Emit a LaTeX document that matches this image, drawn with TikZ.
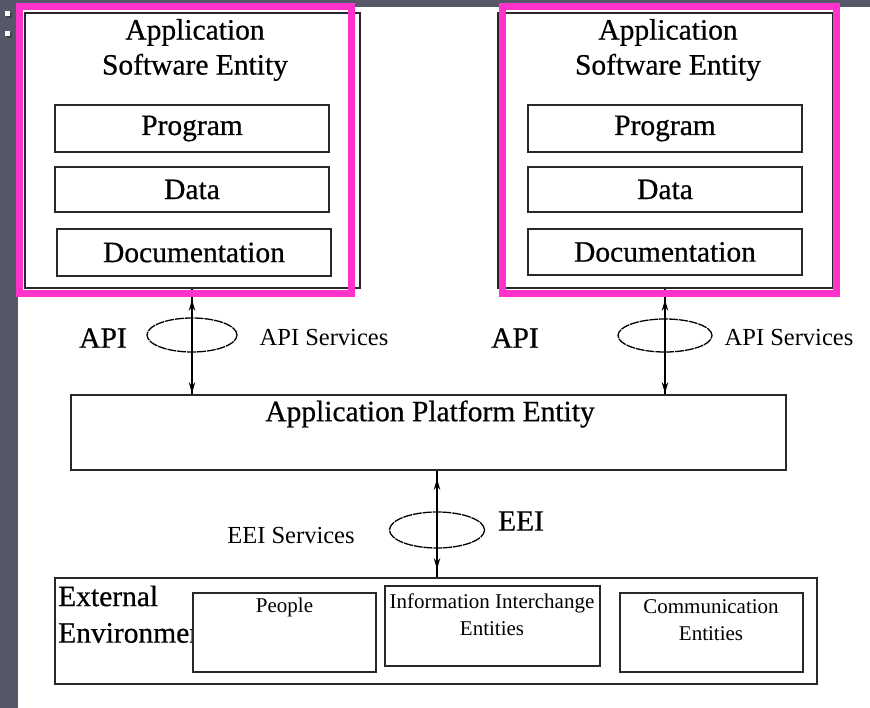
\documentclass[tikz,border=0pt]{standalone}
\usepackage{fontspec}
\setmainfont{Liberation Serif}
\newfontfamily\heavyserif{Liberation Serif}[FakeBold=0.6]
\usetikzlibrary{arrows.meta,shapes.geometric}
\definecolor{bggray}{RGB}{86,88,104}
\definecolor{hotpink}{RGB}{255,51,204}
\definecolor{linegray}{RGB}{40,40,40}
\newcommand{\bigtxt}{\heavyserif\fontsize{29.5}{35}\selectfont}
\newcommand{\midtxt}{\fontsize{24.5}{28}\selectfont}
\newcommand{\smalltxt}{\fontsize{21}{27}\selectfont}
\tikzset{
  box/.style={draw=linegray, line width=1.6pt, fill=white, inner sep=0pt},
  pinkbox/.style={draw=hotpink, line width=7pt, inner sep=0pt},
  txt/.style={inner sep=0pt, text=black},
  bigarrow/.style={draw=black, line width=1.4pt, {Stealth[length=11pt,width=6.5pt]}-{Stealth[length=11pt,width=6.5pt]}},
  plainline/.style={draw=black, line width=1.4pt},
  iface/.style={draw=black, line width=1.3pt, dash pattern=on 9pt off 0.9pt},
}
\begin{document}
\begin{tikzpicture}[x=1pt,y=-1pt]
\useasboundingbox (0,0) rectangle (870,708);
\fill[bggray] (0,0) rectangle (870,708);
\fill[white] (18,7) rectangle (870,708);
% bullets
\fill[black!75] (6.5,13) rectangle (11.5,18);
\fill[white] (5,11.5) rectangle (10,16.5);
\fill[black!75] (6.5,33) rectangle (11.5,38);
\fill[white] (5,31.5) rectangle (10,36.5);

% application software entities
\node[box, minimum width=335pt, minimum height=275pt] (aseL) at (192.5,150.5) {};
\node[box, minimum width=335pt, minimum height=275pt] (aseR) at (665.5,150.5) {};
\node[txt, align=center, font=\bigtxt] (aseLt) at (195,50) {Application\\Software Entity};
\node[txt, align=center, font=\bigtxt] (aseRt) at (668,50) {Application\\Software Entity};

\node[box, minimum width=274pt, minimum height=47pt, font=\bigtxt] (progL) at (192,128.5) {Program};
\node[box, minimum width=274pt, minimum height=45pt, font=\bigtxt] (dataL) at (192,189.5) {Data};
\node[box, minimum width=274pt, minimum height=47pt, font=\bigtxt] (docL) at (194,252.5) {Documentation};
\node[box, minimum width=274pt, minimum height=47pt, font=\bigtxt] (progR) at (665,128.5) {Program};
\node[box, minimum width=274pt, minimum height=45pt, font=\bigtxt] (dataR) at (665,189.5) {Data};
\node[box, minimum width=274pt, minimum height=46pt, font=\bigtxt] (docR) at (665,252) {Documentation};

% platform
\node[box, minimum width=715pt, minimum height=75pt] (plat) at (428.5,432.5) {};
\node[txt, font=\bigtxt] (platt) at (430,414) {Application Platform Entity};

% API interface ellipses
\node[iface, ellipse, minimum width=90pt, minimum height=34pt, inner sep=0pt] (ellL) at (192,335) {};
\node[iface, ellipse, minimum width=94pt, minimum height=33pt, inner sep=0pt] (ellR) at (665,335.5) {};
% API connectors
\draw[plainline] (ellL |- aseL.south) -- (ellL |- plat.north);
\draw[plainline] (ellR |- aseR.south) -- (ellR |- plat.north);
\draw[bigarrow, shorten <=11pt, shorten >=1pt] (ellL |- aseL.south) -- (ellL |- plat.north);
\draw[bigarrow, shorten <=11pt, shorten >=1pt] (ellR |- aseR.south) -- (ellR |- plat.north);

% pink highlight frames
\node[pinkbox, minimum width=332pt, minimum height=287.5pt] (pinkL) at (185,150.25) {};
\node[pinkbox, minimum width=334pt, minimum height=287.5pt] (pinkR) at (669,150.25) {};

\node[txt, font=\bigtxt] (apiL) at (103,338) {API};
\node[txt, font=\bigtxt] (apiR) at (515,338) {API};
\node[txt, font=\midtxt] (apisL) at (324,338) {API Services};
\node[txt, font=\midtxt] (apisR) at (789,338) {API Services};

% external environment
\node[box, minimum width=762pt, minimum height=106pt] (ext) at (436,631) {};
\node[txt, font=\bigtxt, anchor=west] (extt1) at (58,596) {External};
\node[txt, font=\bigtxt, anchor=west] (extt2) at (58,633) {Environment};
\node[box, minimum width=183pt, minimum height=79pt] (people) at (284.5,632.5) {};
\node[txt, font=\smalltxt] (peoplet) at (284.5,607) {People};
\node[box, minimum width=215pt, minimum height=80pt] (info) at (492.5,626) {};
\node[txt, font=\smalltxt, align=center] (infot) at (492,614.5) {Information Interchange\\Entities};
\node[box, minimum width=183pt, minimum height=79pt] (comm) at (711.5,632.5) {};
\node[txt, font=\smalltxt, align=center] (commt) at (711,620) {Communication\\Entities};

% EEI connector
\node[iface, ellipse, minimum width=95pt, minimum height=36pt, inner sep=0pt] (ellE) at (437,530) {};
\draw[plainline] (ellE |- plat.south) -- (ellE |- ext.north);
\draw[bigarrow, shorten <=8pt, shorten >=8pt] (ellE |- plat.south) -- (ellE |- ext.north);
\node[txt, font=\bigtxt] (eeit) at (521,521) {EEI};
\node[txt, font=\midtxt] (eeis) at (291,536) {EEI Services};
\end{tikzpicture}
\end{document}
